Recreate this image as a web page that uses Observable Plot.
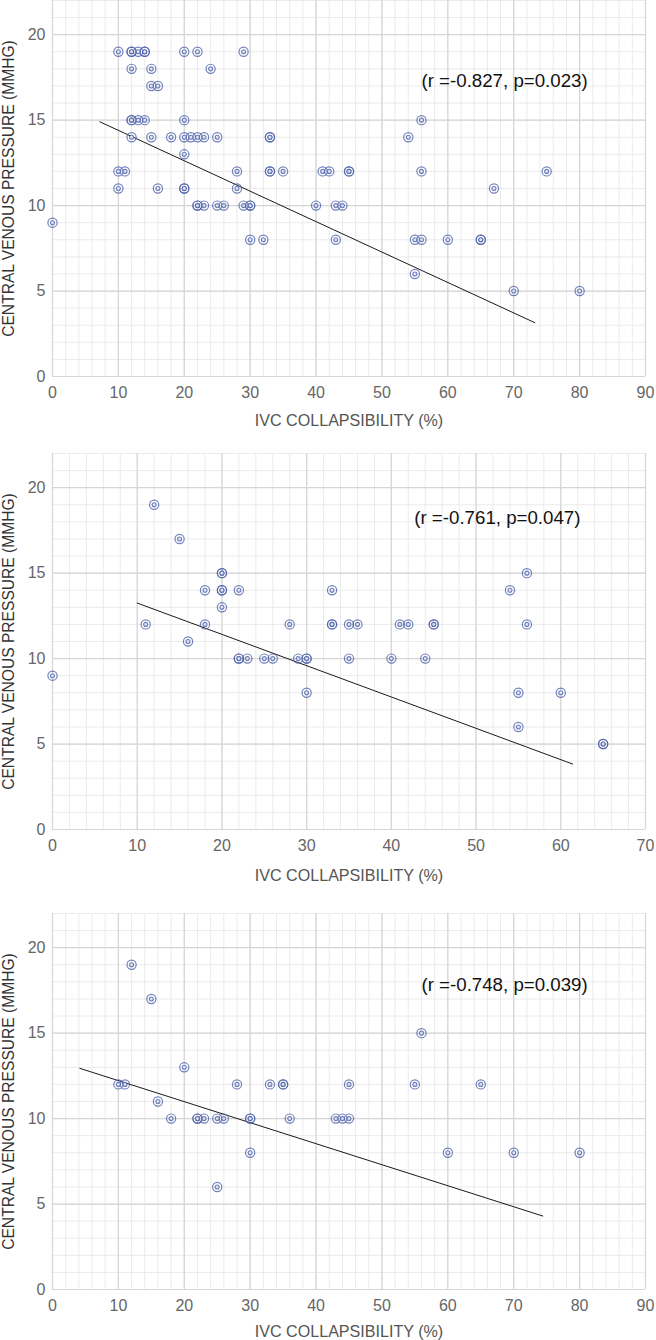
<!DOCTYPE html>
<html><head><meta charset="utf-8">
<script src="https://cdn.jsdelivr.net/npm/d3@7"></script>
<script src="https://cdn.jsdelivr.net/npm/@observablehq/plot@0.6"></script>
<style>
body{margin:0;background:#fff;width:656px;overflow:hidden;}
#c svg{display:block;}
</style>
</head><body><div id="c"></div>
<script>
const xLabel = "IVC COLLAPSIBILITY (%)";
const yLabel = "CENTRAL VENOUS PRESSURE (MMHG)";
const yTicks = [0, 5, 10, 15, 20];
const xTicks90 = [0, 10, 20, 30, 40, 50, 60, 70, 80, 90];
const xTicks70 = [0, 10, 20, 30, 40, 50, 60, 70];

// Chart 1
const ivc1 = [10,12,12,13,14,14,20,22,29, 12,15,24, 15,16, 12,12,13,14,20,56,
  12,15,18,20,21,22,23,25,33,33,54, 20, 10,11,28,33,33,35,41,42,45,45,56,75,
  10,16,20,20,28,67, 22,22,23,25,26,29,30,30,40,43,44, 0, 30,32,43,55,56,60,65,65, 55, 70,80];
const cvp1 = [19,19,19,19,19,19,19,19,19, 18,18,18, 17,17, 15,15,15,15,15,15,
  14,14,14,14,14,14,14,14,14,14,14, 13, 12,12,12,12,12,12,12,12,12,12,12,12,
  11,11,11,11,11,11, 10,10,10,10,10,10,10,10,10,10,10, 9, 8,8,8,8,8,8,8,8, 6, 5,5];
const trendX1 = [7.2, 73.2];
const trendY1 = [14.9, 3.15];
const note1 = "(r =-0.827, p=0.023)";

// Chart 2
const ivc2 = [12, 15, 20,20,56, 18,20,20,22,33,54, 20, 11,18,28,33,33,35,36,41,42,45,45,56,
  16, 22,22,23,25,26,29,30,30,35,40,44, 0, 30,55,60, 55, 65,65];
const cvp2 = [19, 17, 15,15,15, 14,14,14,14,14,14, 13, 12,12,12,12,12,12,12,12,12,12,12,12,
  11, 10,10,10,10,10,10,10,10,10,10,10, 9, 8,8,8, 6, 5,5];
const trendX2 = [10.0, 61.4];
const trendY2 = [13.25, 3.83];
const note2 = "(r =-0.761, p=0.047)";

// Chart 3
const ivc3 = [12, 15, 56, 20, 10,11,28,33,35,35,45,55,65, 16, 18,22,22,23,25,26,30,30,36,43,44,45,
  30,60,70,80, 25];
const cvp3 = [19, 17, 15, 13, 12,12,12,12,12,12,12,12,12, 11, 10,10,10,10,10,10,10,10,10,10,10,10,
  8,8,8,8, 6];
const trendX3 = [4.15, 74.4];
const trendY3 = [12.94, 4.3];
const note3 = "(r =-0.748, p=0.039)";

const charts = [
  {ivc: ivc1, cvp: cvp1, tx: trendX1, ty: trendY1, note: note1, noteX: 56, noteY: 17.3, xTicks: xTicks90, height: 453, mt: 0, labelDy: 44},
  {ivc: ivc2, cvp: cvp2, tx: trendX2, ty: trendY2, note: note2, noteX: 42.7, noteY: 18.25, xTicks: xTicks70, height: 460, mt: 0, labelDy: 46},
  {ivc: ivc3, cvp: cvp3, tx: trendX3, ty: trendY3, note: note3, noteX: 56, noteY: 17.8, xTicks: xTicks90, height: 427, mt: 0, labelDy: 42}
];

const blue = "#4d62aa";
const font = "'Liberation Sans', Arial, Helvetica, sans-serif";

function draw(cfg) {
  const pts = cfg.ivc.map((v, i) => ({x: v, y: cfg.cvp[i]}));
  const trend = cfg.tx.map((v, i) => ({x: v, y: cfg.ty[i]}));
  const xMax = cfg.xTicks[cfg.xTicks.length - 1];
  return Plot.plot({
    width: 656,
    height: cfg.height,
    marginLeft: 52,
    marginRight: 11,
    marginTop: cfg.mt,
    marginBottom: cfg.height - cfg.mt - 376,
    x: {domain: [0, xMax]},
    y: {domain: [0, 22]},
    style: {fontFamily: font, fontSize: "16px", color: "#666", background: "#fff", overflow: "visible"},
    marks: [
      Plot.gridX({ticks: d3.range(0, xMax + 0.01, 2), stroke: "#ebebeb", strokeOpacity: 1}),
      Plot.gridY({ticks: d3.range(0, 22.01, 1), stroke: "#ebebeb", strokeOpacity: 1}),
      Plot.gridX({ticks: cfg.xTicks, stroke: "#d5d5d5", strokeOpacity: 1, strokeWidth: 1.2}),
      Plot.gridY({ticks: yTicks, stroke: "#d5d5d5", strokeOpacity: 1, strokeWidth: 1.2}),
      Plot.axisX({ticks: cfg.xTicks, tickSize: 0, tickPadding: 10, label: null, fill: "#666"}),
      Plot.axisY({ticks: yTicks, tickSize: 0, tickPadding: 7, label: null, fill: "#666"}),
      Plot.line(trend, {x: "x", y: "y", stroke: "#1a1a1a", strokeWidth: 1}),
      Plot.dot(pts, {x: "x", y: "y", r: 4.6, stroke: blue, strokeWidth: 1.2, strokeOpacity: 0.8, fill: "none"}),
      Plot.dot(pts, {x: "x", y: "y", r: 2, stroke: blue, strokeWidth: 1.1, strokeOpacity: 0.8, fill: "#dfe4f2"}),
      Plot.text([{x: cfg.noteX, y: cfg.noteY, t: cfg.note}], {x: "x", y: "y", text: "t", textAnchor: "start", fontSize: 18.7, fill: "#111"}),
      Plot.text([xLabel], {frameAnchor: "bottom", dy: cfg.labelDy, text: d => d, textAnchor: "middle", lineAnchor: "middle", fontSize: 16.1, fill: "#555"}),
      Plot.text([yLabel], {frameAnchor: "left", dx: -44, rotate: -90, text: d => d, textAnchor: "middle", lineAnchor: "middle", fontSize: 15.6, fill: "#333"})
    ]
  });
}

const container = document.getElementById("c");
for (const cfg of charts) container.appendChild(draw(cfg));
</script>
</body></html>
